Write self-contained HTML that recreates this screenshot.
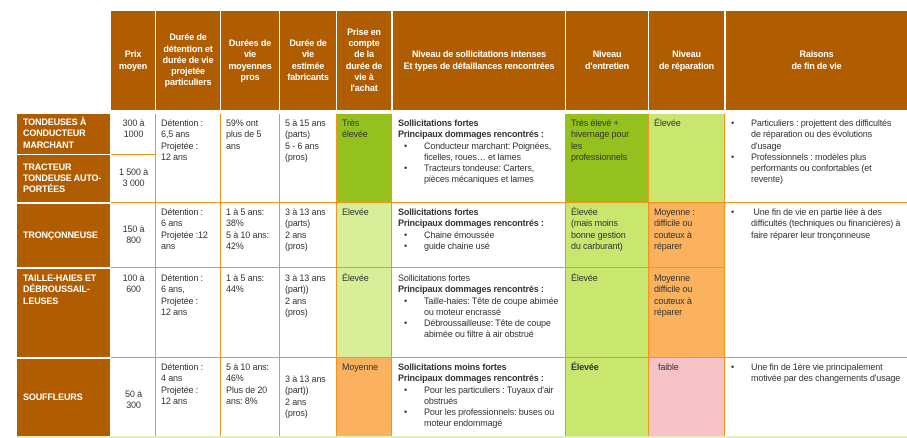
<!DOCTYPE html>
<html><head><meta charset="utf-8"><style>
body{margin:0;width:907px;height:438px;background:#fff;position:relative;overflow:hidden;font-family:"Liberation Sans",sans-serif;}
.c{position:absolute;box-sizing:border-box;font-size:9px;line-height:11.3px;color:#333;padding:4px 4px 0 5px;letter-spacing:-0.15px;}
.h{background:#b05c00;color:#fff;font-weight:bold;text-align:center;display:flex;align-items:center;justify-content:center;padding:0 2px;}
.l{background:#b05c00;color:#fff;font-weight:bold;font-size:9px;padding:0 4px 0 6px;display:flex;align-items:center;}
.v{position:absolute;background:#f7941d;}
ul{margin:0;padding:0 0 0 26px;}
li{list-style:none;position:relative;}
li:before{content:"•";position:absolute;left:-20px;}
b{font-weight:bold;}
</style></head><body>
<!-- headers -->
<div class="c h" style="left:111px;top:11px;width:44px;height:99px;">Prix<br>moyen</div>
<div class="c h" style="left:156px;top:11px;width:64px;height:99px;">Durée de<br>détention et<br>durée de vie<br>projetée<br>particuliers</div>
<div class="c h" style="left:221px;top:11px;width:58px;height:99px;">Durées de<br>vie<br>moyennes<br>pros</div>
<div class="c h" style="left:280px;top:11px;width:56px;height:99px;">Durée de<br>vie<br>estimée<br>fabricants</div>
<div class="c h" style="left:337px;top:11px;width:54px;height:99px;">Prise en<br>compte<br>de la<br>durée de<br>vie à<br>l'achat</div>
<div class="c h" style="left:393px;top:11px;width:172px;height:99px;">Niveau de sollicitations intenses<br>Et types de défaillances rencontrées</div>
<div class="c h" style="left:566px;top:11px;width:82px;height:99px;">Niveau<br>d'entretien</div>
<div class="c h" style="left:649px;top:11px;width:75px;height:99px;">Niveau<br>de réparation</div>
<div class="c h" style="left:726px;top:11px;width:181px;height:99px;">Raisons<br>de fin de vie</div>
<!-- labels -->
<div class="c l" style="left:17px;top:114px;width:93px;height:40px;">TONDEUSES À CONDUCTEUR MARCHANT</div>
<div class="c l" style="left:17px;top:155px;width:93px;height:47px;">TRACTEUR TONDEUSE AUTO-PORTÉES</div>
<div class="c l" style="left:17px;top:204px;width:93px;height:63px;">TRONÇONNEUSE</div>
<div class="c l" style="left:17px;top:269px;width:93px;height:88px;align-items:flex-start;padding-top:4px;">TAILLE-HAIES ET DÉBROUSSAIL-LEUSES</div>
<div class="c l" style="left:17px;top:359px;width:93px;height:77px;">SOUFFLEURS</div>
<!-- colored cells -->
<div class="c" style="left:337px;top:114px;width:54px;height:88px;background:#95c11f;">Très<br>élevée</div>
<div class="c" style="left:566px;top:114px;width:82px;height:88px;background:#95c11f;">Très élevé +<br>hivernage pour<br>les<br>professionnels</div>
<div class="c" style="left:649px;top:114px;width:75px;height:88px;background:#c9e66e;">Élevée</div>
<div class="c" style="left:337px;top:203px;width:54px;height:154px;background:#d8ee98;">Elevée</div>
<div class="c" style="left:566px;top:203px;width:82px;height:154px;background:#c9e66e;">Élevée<br>(mais moins<br>bonne gestion<br>du carburant)</div>
<div class="c" style="left:649px;top:203px;width:75px;height:154px;background:#fbb25e;">Moyenne :<br>difficile ou<br>couteux à<br>réparer</div>
<div class="c" style="left:566px;top:269px;width:82px;height:88px;">Élevée</div>
<div class="c" style="left:649px;top:269px;width:75px;height:88px;">Moyenne<br>difficile ou<br>couteux à<br>réparer</div>
<div class="c" style="left:337px;top:358px;width:54px;height:78px;background:#fbb25e;">Moyenne</div>
<div class="c" style="left:566px;top:358px;width:82px;height:78px;background:#c9e66e;"><b>Élevée</b></div>
<div class="c" style="left:649px;top:358px;width:75px;height:78px;background:#f7c1c8;padding-left:9px;">faible</div>
<div style="position:absolute;left:17px;top:436px;width:890px;height:2px;background:#dff0b8;"></div>
<!-- text cells row A -->
<div class="c" style="left:111px;top:114px;width:44px;text-align:center;">300 à<br>1000</div>
<div class="c" style="left:111px;top:163px;width:44px;text-align:center;">1 500 à<br>3 000</div>
<div class="c" style="left:156px;top:114px;width:64px;">Détention :<br>6,5 ans<br>Projetée :<br>12 ans</div>
<div class="c" style="left:221px;top:114px;width:58px;">59% ont<br>plus de 5<br>ans</div>
<div class="c" style="left:280px;top:114px;width:56px;">5 à 15 ans<br>(parts)<br>5 - 6 ans<br>(pros)</div>
<div class="c" style="left:393px;top:114px;width:172px;"><b>Sollicitations fortes<br>Principaux dommages rencontrés :</b><ul><li>Conducteur marchant:  Poignées, ficelles, roues… et lames</li><li>Tracteurs tondeuse: Carters, pièces mécaniques et lames</li></ul></div>
<div class="c" style="left:726px;top:114px;width:181px;"><ul style="padding-left:20px"><li style="">Particuliers :  projettent des difficultés de réparation ou des évolutions d'usage</li><li>Professionnels : modèles plus performants ou confortables (et revente)</li></ul></div>
<!-- row B -->
<div class="c" style="left:111px;top:220px;width:44px;text-align:center;">150 à<br>800</div>
<div class="c" style="left:156px;top:203px;width:64px;">Détention :<br>6 ans<br>Projetée :12<br>ans</div>
<div class="c" style="left:221px;top:203px;width:58px;">1 à 5 ans:<br>38%<br>5 à 10 ans:<br>42%</div>
<div class="c" style="left:280px;top:203px;width:56px;">3 à 13 ans<br>(parts)<br>2 ans<br>(pros)</div>
<div class="c" style="left:393px;top:203px;width:172px;"><b>Sollicitations fortes<br>Principaux dommages rencontrés :</b><ul><li>Chaine émoussée</li><li>guide chaine usé</li></ul></div>
<div class="c" style="left:726px;top:203px;width:181px;"><ul style="padding-left:20px"><li>&nbsp;Une fin de vie en partie liée à des difficultés (techniques ou financières) à faire réparer leur tronçonneuse</li></ul></div>
<!-- row C -->
<div class="c" style="left:111px;top:269px;width:44px;text-align:center;">100 à<br>600</div>
<div class="c" style="left:156px;top:269px;width:64px;">Détention :<br>6 ans,<br>Projetée :<br>12 ans</div>
<div class="c" style="left:221px;top:269px;width:58px;">1 à 5 ans:<br>44%</div>
<div class="c" style="left:280px;top:269px;width:56px;">3 à 13 ans<br>(part))<br>2 ans<br>(pros)</div>
<div class="c" style="left:337px;top:269px;width:54px;">Élevée</div>
<div class="c" style="left:393px;top:269px;width:172px;">Sollicitations fortes<br><b>Principaux dommages rencontrés :</b><ul><li>Taille-haies: Tête de coupe abimée ou moteur encrassé</li><li>Débroussailleuse: Tête de coupe abimée ou filtre à air obstrué</li></ul></div>
<!-- row D -->
<div class="c" style="left:111px;top:385px;width:44px;text-align:center;">50 à<br>300</div>
<div class="c" style="left:156px;top:358px;width:64px;">Détention :<br>4 ans<br>Projetée :<br>12 ans</div>
<div class="c" style="left:221px;top:358px;width:58px;">5 à 10 ans:<br>46%<br>Plus de 20<br>ans: 8%</div>
<div class="c" style="left:280px;top:370px;width:56px;">3 à 13 ans<br>(part))<br>2 ans<br>(pros)</div>
<div class="c" style="left:393px;top:358px;width:172px;"><b>Sollicitations moins fortes<br>Principaux dommages rencontrés :</b><ul><li>Pour les particuliers : Tuyaux d'air obstrués</li><li>Pour les professionnels: buses ou moteur endommagé</li></ul></div>
<div class="c" style="left:726px;top:358px;width:181px;"><ul style="padding-left:20px"><li>Une fin de 1ère  vie principalement motivée par des changements d'usage</li></ul></div>
<!-- orange lines -->
<div class="v" style="left:111px;top:154px;width:44px;height:1px;"></div>
<div class="v" style="left:111px;top:202px;width:796px;height:1px;"></div>
<div class="v" style="left:111px;top:267px;width:614px;height:1px;"></div>
<div class="v" style="left:111px;top:357px;width:796px;height:1px;"></div>
<div class="v" style="left:155px;top:114px;width:1px;height:322px;"></div>
<div class="v" style="left:220px;top:114px;width:1px;height:322px;"></div>
<div class="v" style="left:279px;top:114px;width:1px;height:322px;"></div>
<div class="v" style="left:336px;top:114px;width:1px;height:322px;"></div>
<div class="v" style="left:391px;top:114px;width:1px;height:322px;"></div>
<div class="v" style="left:565px;top:114px;width:1px;height:322px;"></div>
<div class="v" style="left:648px;top:114px;width:1px;height:322px;"></div>
<div class="v" style="left:724px;top:114px;width:1px;height:322px;"></div>
</body></html>
